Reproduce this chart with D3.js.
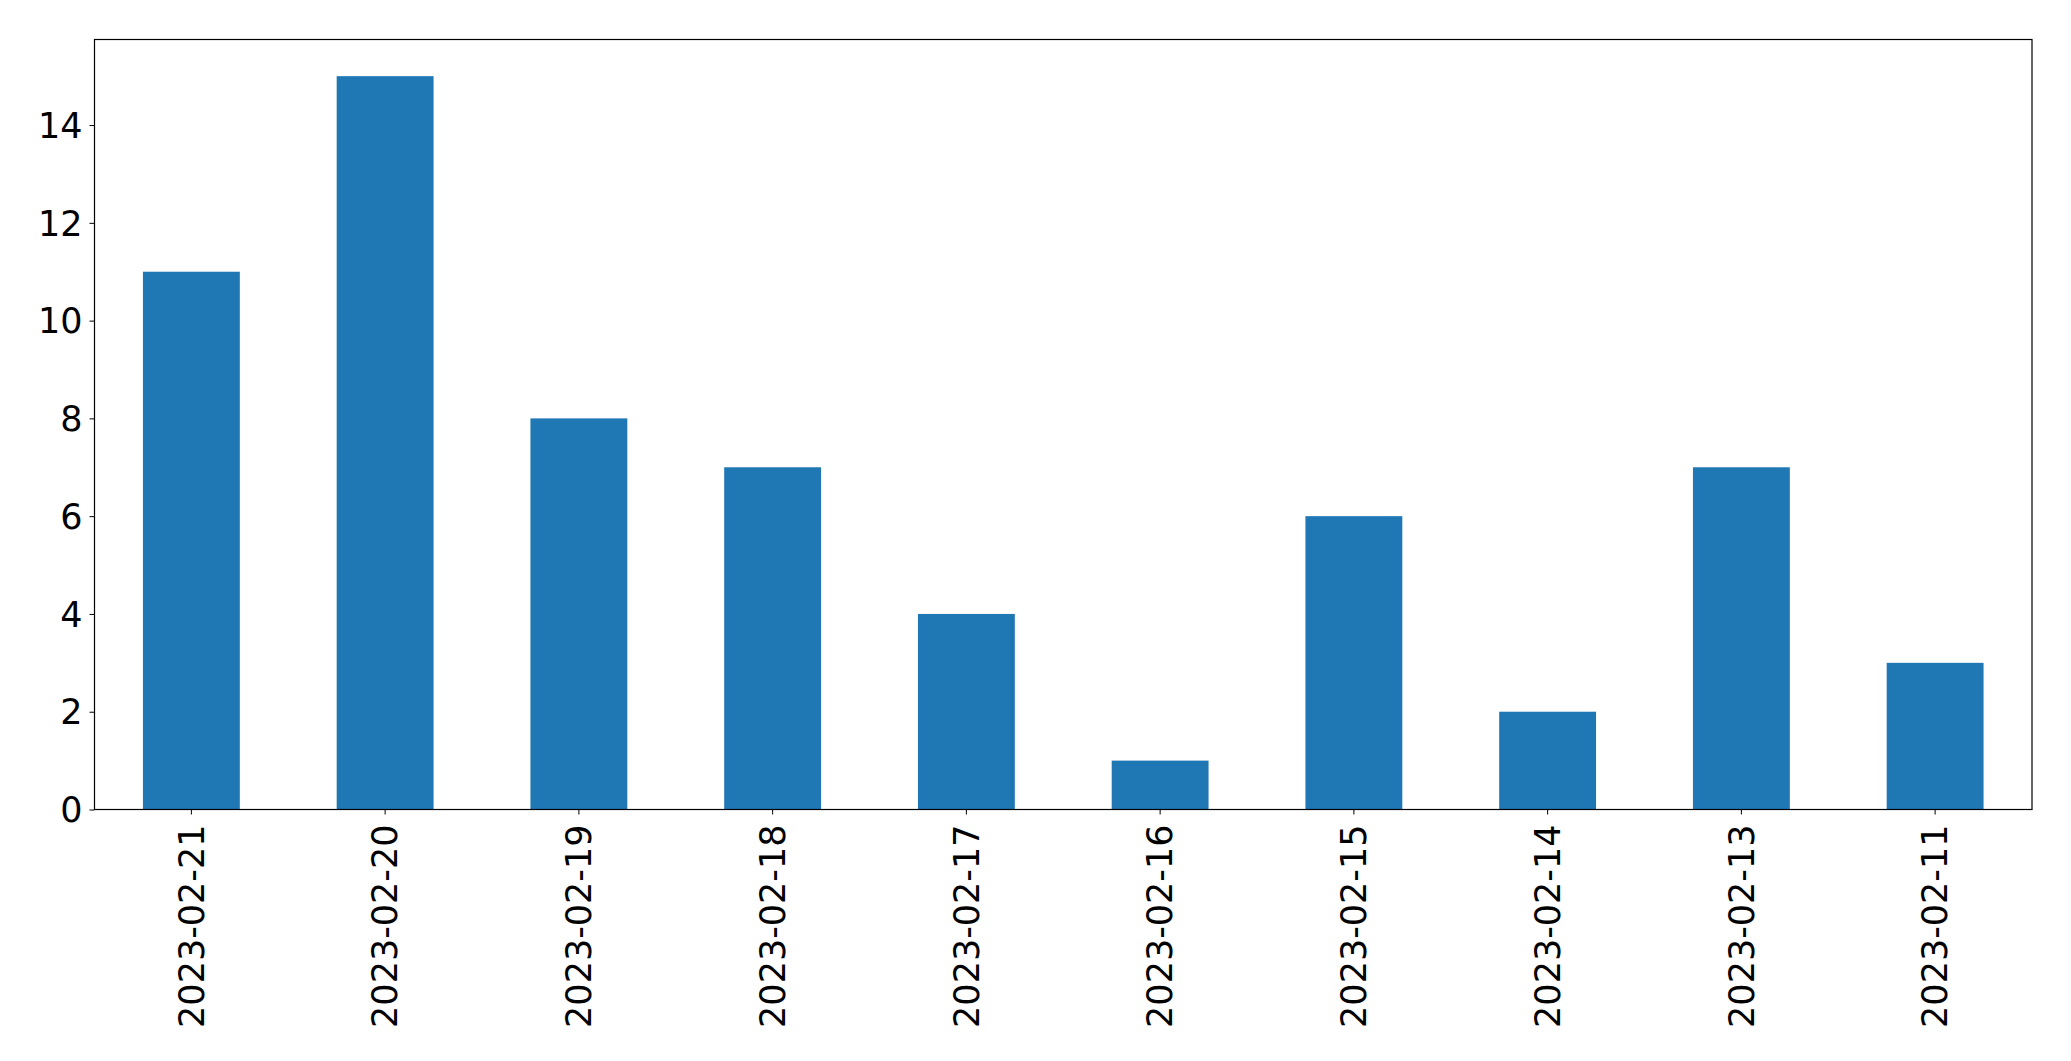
<!DOCTYPE html>
<html>
<head>
<meta charset="utf-8">
<script src="https://cdn.jsdelivr.net/npm/d3@7"></script>
<style>
  body { margin: 0; background: #fff; }
  svg text { font-family: "DejaVu Sans", sans-serif; }
</style>
</head>
<body>
<div id="chart"></div>
<script>
// data
const dates = ["2023-02-21", "2023-02-20", "2023-02-19", "2023-02-18", "2023-02-17",
               "2023-02-16", "2023-02-15", "2023-02-14", "2023-02-13", "2023-02-11"];
const counts = [11, 15, 8, 7, 4, 1, 6, 2, 7, 3];
const yTicks = [0, 2, 4, 6, 8, 10, 12, 14];

const width = 2071;
const height = 1061;
const margin = { top: 39.5, right: 39, bottom: 251.5, left: 94.5 };
const innerW = width - margin.left - margin.right;
const innerH = height - margin.top - margin.bottom;

const svg = d3.select("#chart")
	.append("svg")
		.attr("width", width)
		.attr("height", height);

const g = svg.append("g")
	.attr("transform", `translate(${margin.left},${margin.top})`);

const x = d3.scaleBand()
	.domain(dates)
	.range([0, innerW])
	.paddingInner(0.5)
	.paddingOuter(0.25);

const y = d3.scaleLinear()
	.domain([0, d3.max(counts) * 1.05])
	.range([innerH, 0]);

g.selectAll("rect.bar")
	.data(counts)
	.enter()
	.append("rect")
		.attr("class", "bar")
		.attr("x", (d, i) => x(dates[i]))
		.attr("y", (d) => y(d))
		.attr("width", x.bandwidth())
		.attr("height", (d) => y(0) - y(d))
		.attr("fill", "#1f77b4");

// y axis
const yAxis = g.append("g")
	.call(d3.axisLeft(y).tickValues(yTicks).tickSize(5).tickPadding(7).tickFormat(d3.format("d")));
yAxis.select(".domain").remove();
yAxis.selectAll("text").attr("font-size", 35).attr("fill", "#000").attr("dy", "0.35em");
yAxis.selectAll("line").attr("stroke", "#000");

// x axis
const xAxis = g.append("g")
	.attr("transform", `translate(0,${innerH})`)
	.call(d3.axisBottom(x).tickSize(5).tickPadding(0));
xAxis.select(".domain").remove();
xAxis.selectAll("line").attr("stroke", "#000");
xAxis.selectAll("text")
	.attr("font-size", 35)
	.attr("fill", "#000")
	.attr("text-anchor", "end")
	.attr("transform", "rotate(-90)")
	.attr("x", -15)
	.attr("y", 0)
	.attr("dy", "0.35em");

// frame
g.append("rect")
	.attr("x", 0)
	.attr("y", 0)
	.attr("width", innerW)
	.attr("height", innerH)
	.attr("fill", "none")
	.attr("stroke", "#000")
	.attr("stroke-width", 1.2);
</script>
</body>
</html>
